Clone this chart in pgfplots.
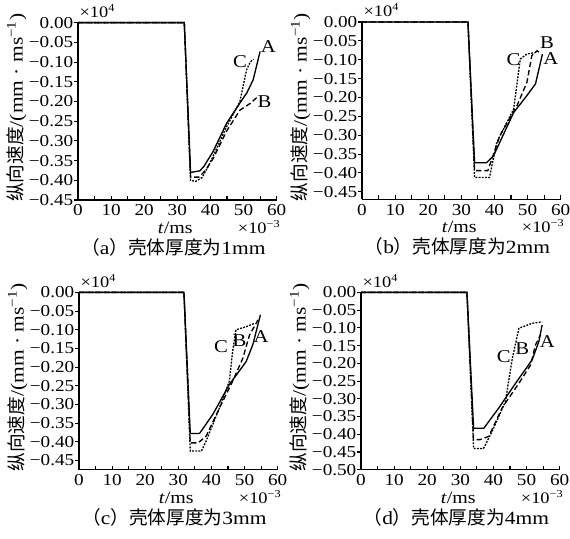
\documentclass[border=0pt]{standalone}
\usepackage{fontspec}
\setmainfont{Liberation Serif}[FakeStretch=1.15]
\newfontfamily\cjk{Noto Sans CJK SC}
\usepackage{pgfplots}
\pgfplotsset{compat=1.18}

\pgfplotsset{
  panel/.style={
    scale only axis, width=149pt, height=133pt,
    xmin=0, xmax=60, ymax=0,
    xtick={0,10,20,30,40,50,60},
    xticklabels={0,10,20,30,40,50,60},
    minor x tick num=1,
    axis x line*=bottom, axis y line*=left,
    axis line style={-, line width=0.9pt},
    tick align=inside,
    major tick length=3pt, minor tick length=3pt,
    every tick/.style={black, line width=0.8pt},
    y tick style={xshift=-3pt},
    ytick pos=left, xtick pos=bottom,
    tick label style={font=\fontsize{12.5}{13}\selectfont},
    clip=false,
    every axis plot/.append style={no marks, black, line width=1pt},
  },
  sA/.style={solid},
  sB/.style={dash pattern=on 4pt off 2.2pt},
  sC/.style={dash pattern=on 1.4pt off 1pt},
}
\tikzset{lbl/.style={font=\fontsize{13.5}{14}\selectfont, inner sep=0pt}}
\newcommand{\decor}[1]{%
  \node[anchor=base west, font=\fontsize{12}{12}\selectfont, inner sep=0pt] at ([xshift=1pt,yshift=4pt]rel axis cs:0,1) {×10\textsuperscript{4}};
  \node[anchor=base east, font=\fontsize{12}{12}\selectfont, inner sep=0pt] at ([xshift=3pt,yshift=-25pt]rel axis cs:1,0) {×10\textsuperscript{−3}};
  \node[anchor=base, font=\fontsize{13}{13}\selectfont, inner sep=0pt] at ([yshift=-25pt]rel axis cs:0.49,0) {\textit{t}/ms};
  \node[anchor=center, rotate=90, font=\fontsize{14}{14}\selectfont, inner sep=0pt] at ([xshift=-46pt]rel axis cs:0,0.52) {{\cjk 纵向速度}/(mm · ms\textsuperscript{−1})};
  \node[anchor=base, font=\fontsize{14}{14}\selectfont, inner sep=0pt] at ([yshift=-41pt]rel axis cs:0.48,0) {{\cjk （}#1};
}

\begin{document}
\begin{tikzpicture}
\useasboundingbox (0,0) rectangle (427.5pt,403.5pt);

% (a) 1mm
\begin{axis}[panel, at={(58.5pt,253.5pt)}, anchor=south west, ymin=-0.45,
  ytick={-0.45,-0.4,-0.35,-0.3,-0.25,-0.2,-0.15,-0.1,-0.05,0},
  yticklabels={−0.45,−0.40,−0.35,−0.30,−0.25,−0.20,−0.15,−0.10,−0.05,0.00}]
\addplot[sA] coordinates {(0,0)(32.1,0)(34,-0.38)(36.8,-0.376)(38,-0.365)(40.8,-0.327)(44.9,-0.255)(48.9,-0.204)(51,-0.178)(52.9,-0.145)(55,-0.073)};
\addplot[sB] coordinates {(0,0)(32.1,0)(34,-0.392)(36.5,-0.392)(38.5,-0.375)(40.8,-0.345)(44.9,-0.275)(48.9,-0.222)(52,-0.205)(54,-0.19)};
\addplot[sC] coordinates {(0,0)(32.1,0)(34,-0.40)(35.5,-0.403)(37.5,-0.393)(39.8,-0.357)(44.9,-0.264)(48.9,-0.2)(50.9,-0.12)(52,-0.1)(53,-0.093)};
\node[lbl] at (axis cs:57.5,-0.06) {A};
\node[lbl] at (axis cs:56.3,-0.2) {B};
\node[lbl] at (axis cs:48.9,-0.098) {C};
\decor{a{\cjk ）壳体厚度为}1mm}
\end{axis}

% (b) 2mm
\begin{axis}[panel, at={(271.5pt,254pt)}, anchor=south west, ymin=-0.47,
  ytick={-0.45,-0.4,-0.35,-0.3,-0.25,-0.2,-0.15,-0.1,-0.05,0},
  yticklabels={−0.45,−0.40,−0.35,−0.30,−0.25,−0.20,−0.15,−0.10,−0.05,0.00}]
\addplot[sA] coordinates {(0,0)(32,0)(34,-0.373)(37.6,-0.373)(39.7,-0.355)(45.8,-0.24)(49.8,-0.195)(52.4,-0.164)(54.5,-0.085)};
\addplot[sB] coordinates {(0,0)(32,0)(34,-0.394)(38,-0.394)(41.7,-0.30)(46.8,-0.222)(49.8,-0.16)(51.3,-0.089)(52.9,-0.076)(53.4,-0.08)};
\addplot[sC] coordinates {(0,0)(32,0)(34,-0.412)(38.5,-0.412)(40.7,-0.319)(45.8,-0.231)(47.8,-0.098)(49.8,-0.085)(52.9,-0.080)};
\node[lbl] at (axis cs:57,-0.098) {A};
\node[lbl] at (axis cs:55.9,-0.054) {B};
\node[lbl] at (axis cs:45.8,-0.10) {C};
\decor{b{\cjk ）壳体厚度为}2mm}
\end{axis}

% (c) 3mm
\begin{axis}[panel, at={(59.25pt,51.2pt)}, anchor=south west, ymin=-0.475,
  ytick={-0.45,-0.4,-0.35,-0.3,-0.25,-0.2,-0.15,-0.1,-0.05,0},
  yticklabels={−0.45,−0.40,−0.35,−0.30,−0.25,−0.20,−0.15,−0.10,−0.05,0.00}]
\addplot[sA] coordinates {(0,0)(31.7,0)(33.6,-0.378)(36.4,-0.378)(40.4,-0.327)(45.4,-0.247)(50.5,-0.185)(52.5,-0.14)(54.8,-0.06)};
\addplot[sB] coordinates {(0,0)(31.7,0)(33.6,-0.403)(36,-0.403)(38.4,-0.385)(42.4,-0.31)(46.4,-0.238)(49.5,-0.176)(51.5,-0.114)(53.5,-0.083)(54,-0.074)};
\addplot[sC] coordinates {(0,0)(31.7,0)(33.6,-0.425)(37,-0.425)(38.4,-0.398)(42.4,-0.31)(45.4,-0.238)(46.4,-0.158)(47.4,-0.1)(50.5,-0.092)(53,-0.083)};
\node[lbl] at (axis cs:55,-0.118) {A};
\node[lbl] at (axis cs:48.5,-0.13) {B};
\node[lbl] at (axis cs:42.9,-0.145) {C};
\decor{c{\cjk ）壳体厚度为}3mm}
\end{axis}

% (d) 4mm
\begin{axis}[panel, at={(270.75pt,51.2pt)}, anchor=south west, ymin=-0.5,
  ytick={-0.5,-0.45,-0.4,-0.35,-0.3,-0.25,-0.2,-0.15,-0.1,-0.05,0},
  yticklabels={−0.50,−0.45,−0.40,−0.35,−0.30,−0.25,−0.20,−0.15,−0.10,−0.05,0.00}]
\addplot[sA] coordinates {(0,0)(32,0)(34,-0.383)(37.1,-0.383)(41.6,-0.326)(46.7,-0.256)(51.7,-0.19)(53.7,-0.139)(54.7,-0.092)};
\addplot[sB] coordinates {(0,0)(32,0)(34,-0.415)(36,-0.415)(38.6,-0.406)(42.6,-0.326)(47.7,-0.256)(51.2,-0.205)(52.7,-0.148)(54.2,-0.12)};
\addplot[sC] coordinates {(0,0)(32,0)(34,-0.44)(37,-0.44)(39.6,-0.392)(43.6,-0.308)(45.7,-0.186)(47.7,-0.101)(51.7,-0.087)(54.7,-0.083)};
\node[lbl] at (axis cs:56.3,-0.139) {A};
\node[lbl] at (axis cs:48.7,-0.158) {B};
\node[lbl] at (axis cs:43.1,-0.181) {C};
\decor{d{\cjk ）壳体厚度为}4mm}
\end{axis}
\end{tikzpicture}
\end{document}
